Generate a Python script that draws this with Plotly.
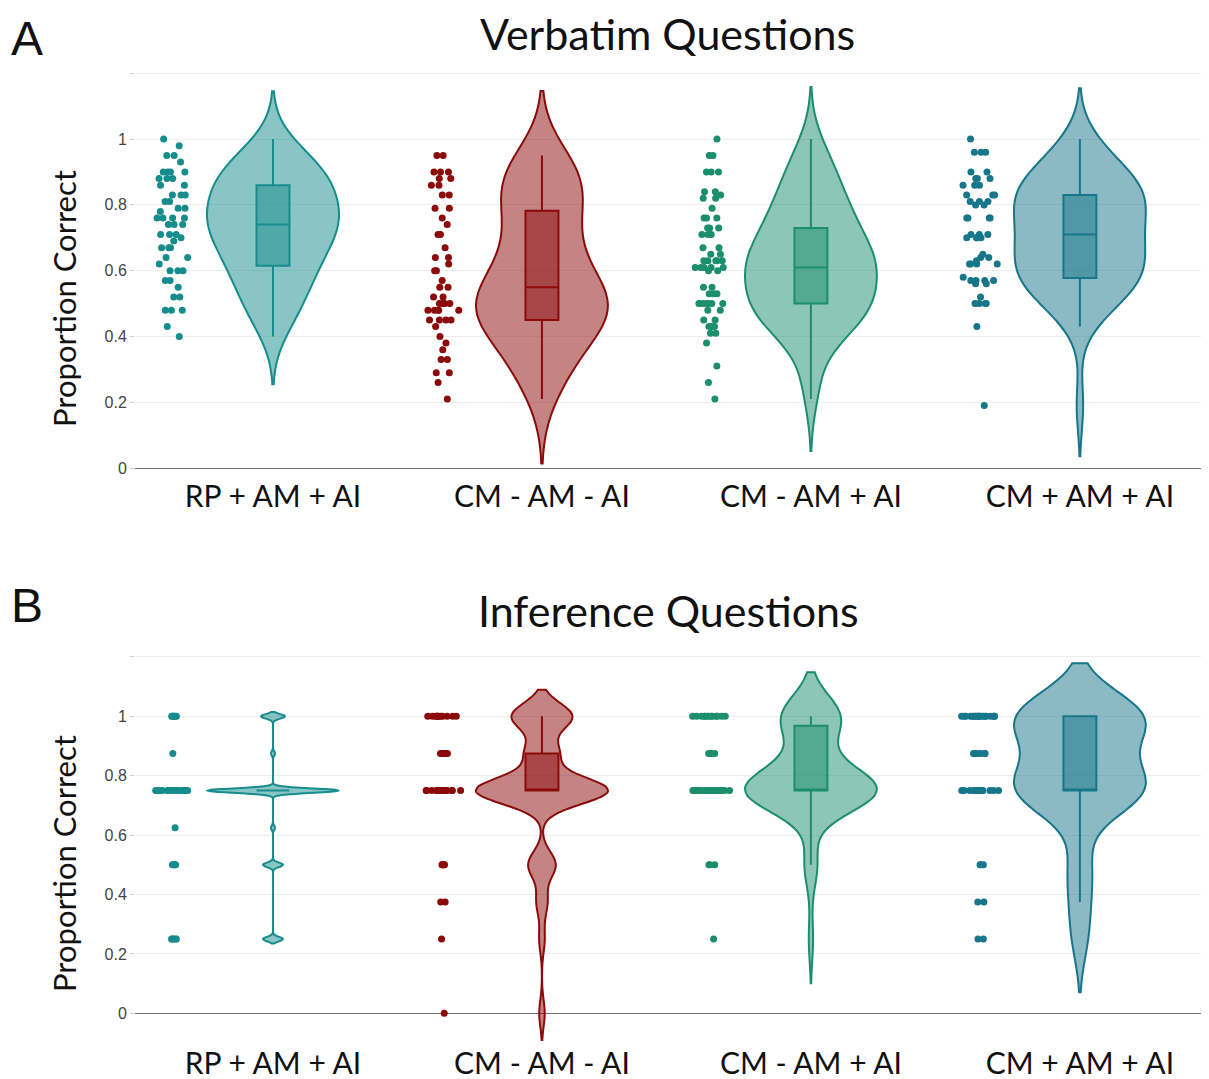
import plotly.graph_objects as go

# the page is rendered with an 8px body margin; size the figure so it fits the window
OFF = 8
W, H = 1209 - OFF, 1079 - OFF

categories = ["RP + AM + AI", "CM - AM - AI", "CM - AM + AI", "CM + AM + AI"]
colors = ["#168C8C", "#8B0A0A", "#1B8E6C", "#17768A"]

# Panel A: verbatim questions (proportion correct per participant)
verbatim_rp_am_ai = [1.0, 0.98, 0.95, 0.95, 0.93, 0.90, 0.90, 0.90, 0.90, 0.88, 0.88, 0.88,
                     0.86, 0.86, 0.83, 0.83, 0.83, 0.81, 0.81, 0.79, 0.79, 0.78, 0.76, 0.76,
                     0.76, 0.76, 0.74, 0.74, 0.74, 0.71, 0.71, 0.71, 0.70, 0.69, 0.67, 0.67,
                     0.67, 0.64, 0.64, 0.62, 0.60, 0.60, 0.60, 0.57, 0.57, 0.55, 0.52, 0.52,
                     0.48, 0.48, 0.48, 0.43, 0.40]
verbatim_cm_noam_noai = [0.95, 0.95, 0.90, 0.90, 0.90, 0.88, 0.88, 0.86, 0.86, 0.83, 0.83, 0.79,
                         0.79, 0.76, 0.74, 0.71, 0.71, 0.67, 0.64, 0.64, 0.62, 0.60, 0.60, 0.57,
                         0.55, 0.55, 0.52, 0.52, 0.50, 0.50, 0.50, 0.50, 0.48, 0.48, 0.48, 0.48,
                         0.48, 0.45, 0.45, 0.45, 0.45, 0.43, 0.40, 0.38, 0.36, 0.33, 0.33, 0.29,
                         0.29, 0.26, 0.21]
verbatim_cm_noam_ai = [1.0, 0.95, 0.95, 0.90, 0.90, 0.90, 0.84, 0.84, 0.83, 0.82, 0.82, 0.79,
                       0.76, 0.76, 0.76, 0.73, 0.73, 0.73, 0.71, 0.71, 0.71, 0.67, 0.67, 0.65,
                       0.65, 0.63, 0.63, 0.63, 0.63, 0.63, 0.61, 0.61, 0.61, 0.61, 0.61, 0.60,
                       0.60, 0.55, 0.55, 0.53, 0.53, 0.53, 0.50, 0.50, 0.50, 0.50, 0.50, 0.50,
                       0.50, 0.48, 0.48, 0.45, 0.45, 0.43, 0.43, 0.43, 0.41, 0.41, 0.38, 0.31,
                       0.26, 0.21]
verbatim_cm_am_ai = [1.0, 0.96, 0.96, 0.96, 0.90, 0.90, 0.88, 0.88, 0.88, 0.86, 0.86, 0.86,
                     0.83, 0.83, 0.83, 0.81, 0.81, 0.81, 0.80, 0.80, 0.76, 0.76, 0.76, 0.76,
                     0.71, 0.71, 0.71, 0.70, 0.70, 0.70, 0.70, 0.65, 0.64, 0.64, 0.63, 0.62,
                     0.62, 0.62, 0.62, 0.58, 0.57, 0.57, 0.57, 0.57, 0.56, 0.56, 0.52, 0.50,
                     0.50, 0.50, 0.50, 0.43, 0.19]

# Panel B: inference questions (scores in eighths)
inference_rp_am_ai = [1.0] * 6 + [0.875] * 1 + [0.75] * 33 + [0.625] * 1 + [0.5] * 5 + [0.25] * 5
inference_cm_noam_noai = [1.0] * 11 + [0.875] * 6 + [0.75] * 24 + [0.5] * 5 + [0.375] * 2 + [0.25] * 1 + [0.0] * 1
inference_cm_noam_ai = [1.0] * 13 + [0.875] * 4 + [0.75] * 30 + [0.5] * 3 + [0.25] * 1
inference_cm_am_ai = [1.0] * 19 + [0.875] * 6 + [0.75] * 19 + [0.5] * 3 + [0.375] * 2 + [0.25] * 2

verbatim = [verbatim_rp_am_ai, verbatim_cm_noam_noai, verbatim_cm_noam_ai, verbatim_cm_am_ai]
inference = [inference_rp_am_ai, inference_cm_noam_noai, inference_cm_noam_ai, inference_cm_am_ai]

y_ticks = [0, 0.2, 0.4, 0.6, 0.8, 1.0, 1.2]
y_ticktext = ["0", "0.2", "0.4", "0.6", "0.8", "1", ""]

fig = go.Figure()

for panel, data in ((1, verbatim), (2, inference)):
    for i, (cat, vals, col) in enumerate(zip(categories, data, colors)):
        fig.add_trace(go.Violin(
            x=[cat] * len(vals), y=vals, name=cat,
            scalegroup=f"p{panel}_{i}",
            xaxis="x" if panel == 1 else "x2",
            yaxis="y" if panel == 1 else "y2",
            points="all", pointpos=-1.5, jitter=0.3,
            box_visible=True, meanline_visible=False,
            line=dict(color=col, width=2),
            marker=dict(color=col, size=7, line=dict(width=0)),
            showlegend=False, hoveron="violins+points",
        ))

L = 135 - OFF
def px_x(p):
    return (p - OFF - L) / (W - L)
def py(p):
    return 1 - (p - OFF) / H

axis_common = dict(
    showgrid=True, gridcolor="#ececec", gridwidth=1,
    zeroline=True, zerolinecolor="#6e6e6e", zerolinewidth=1,
    tickvals=y_ticks, ticktext=y_ticktext,
    tickfont=dict(family="Liberation Sans, Arial", size=16, color="#444444"),
    ticks="outside", ticklen=4, tickcolor="#d0d0d0",
    automargin=False, showline=False,
)
xaxis_common = dict(
    type="category", categoryorder="array", categoryarray=categories,
    range=[-0.513, 3.48], showgrid=False, zeroline=False, showline=False,
    tickfont=dict(family="Lato, Carlito, sans-serif", size=30, color="#111111"),
    automargin=False, ticks="",
)

fig.update_layout(
    width=W, height=H,
    margin=dict(l=L, r=0, t=0, b=0),
    paper_bgcolor="white", plot_bgcolor="white",
    violinmode="overlay",
    xaxis=dict(domain=[0, 1], anchor="y", ticklabelstandoff=3, **xaxis_common),
    xaxis2=dict(domain=[0, 1], anchor="y2", ticklabelstandoff=-3, **xaxis_common),
    yaxis=dict(domain=[py(473), py(70)], anchor="x", range=[-0.015, 1.21], **axis_common),
    yaxis2=dict(domain=[py(1046), py(654)], anchor="x2", range=[-0.11, 1.21], **axis_common),
)

title_font = dict(family="Lato, Carlito, sans-serif", size=43, color="#111111")
label_font = dict(family="Liberation Sans, Arial", size=48, color="#111111")
ytitle_font = dict(family="Lato, Carlito, sans-serif", size=31, color="#111111")

annotations = [
    dict(text="Verbatim Questions", x=px_x(667), y=py(33), font=title_font),
    dict(text="Inference Questions", x=px_x(668), y=py(610), font=title_font),
    dict(text="A", x=px_x(27), y=py(38), font=label_font),
    dict(text="B", x=px_x(27), y=py(605), font=label_font),
    dict(text="Proportion Correct", x=px_x(64), y=py(299), font=ytitle_font, textangle=-90),
    dict(text="Proportion Correct", x=px_x(64), y=py(864), font=ytitle_font, textangle=-90),
]
for a in annotations:
    a.update(xref="paper", yref="paper", showarrow=False, xanchor="center", yanchor="middle")
fig.update_layout(annotations=annotations)

fig.write_html("out.html")
